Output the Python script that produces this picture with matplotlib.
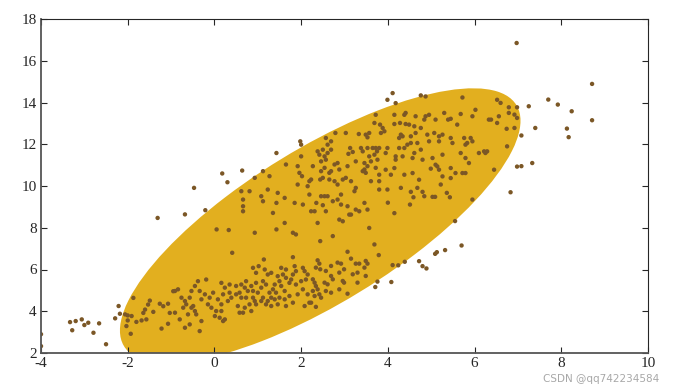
import numpy as np
import matplotlib.pyplot as plt
from matplotlib.patches import Ellipse

plt.rcParams['font.family'] = ['Liberation Serif', 'DejaVu Serif']
plt.rcParams['axes.unicode_minus'] = False

# lower band of points
lower_pts = [
    (-2.06, 3.85), (-2.00, 3.80), (-1.91, 3.77), (-2.00, 3.56), (-2.03, 3.29), (-1.93, 2.92),
    (-1.87, 4.64), (-1.80, 3.49), (-1.68, 3.56), (-1.57, 3.61), (-1.64, 3.92), (-1.60, 4.08),
    (-1.53, 4.32), (-1.49, 4.51), (-1.41, 3.97), (-1.26, 4.36), (-1.18, 4.24), (-1.07, 4.36),
    (-1.03, 3.92), (-1.07, 3.40), (-1.22, 3.17), (-0.95, 4.96),
    (0.41, 6.80), (1.14, 6.48), (1.81, 6.59),
    (0.89, 6.08), (1.02, 6.16), (1.16, 6.00), (0.96, 5.84), (1.23, 5.76), (1.31, 5.84),
    (1.54, 6.08), (1.65, 6.00), (1.85, 6.16), (1.88, 5.92), (2.04, 6.08), (2.15, 5.76),
    (2.11, 5.52), (1.46, 5.68), (1.58, 5.76), (1.50, 5.44), (1.39, 5.28), (1.35, 5.05),
    (1.27, 4.89), (1.42, 4.89), (1.54, 5.21), (1.62, 4.97), (1.73, 5.36), (1.77, 5.52),
    (1.88, 5.28), (2.00, 5.44), (2.04, 5.05), (1.92, 4.81), (1.73, 4.73), (1.81, 4.41),
    (1.65, 4.25), (2.15, 4.81), (2.19, 4.41), (2.08, 4.25),
    (0.73, 5.44), (0.85, 5.21), (0.96, 5.36), (1.08, 5.13), (1.12, 5.44), (1.19, 5.28),
    (1.00, 4.89), (1.12, 4.65), (1.08, 4.49), (1.23, 4.49), (0.89, 4.65), (0.81, 4.33),
    (0.85, 4.01), (0.70, 4.17), (0.62, 4.65), (0.58, 4.89), (0.66, 3.93), (0.54, 4.25),
    (0.50, 4.81), (0.39, 4.65), (0.31, 4.49), (0.35, 4.89), (0.24, 5.13), (0.16, 5.36),
    (0.35, 5.28), (0.20, 4.81), (0.16, 4.33), (0.08, 4.57), (0.04, 4.01), (0.12, 3.69),
    (0.20, 3.53), (0.24, 3.61), (0.01, 3.77), (-0.07, 4.17), (-0.11, 4.65), (-0.03, 4.89),
    (-0.22, 4.81), (-0.30, 4.57), (-0.34, 4.97), (-0.38, 5.44), (-0.19, 5.52), (-0.45, 5.21),
    (-0.53, 4.97), (-0.57, 4.65), (-0.65, 4.33), (-0.68, 4.49), (-0.72, 4.17), (-0.53, 4.17),
    (-0.45, 4.01), (-0.42, 3.85), (-0.49, 4.25), (-0.61, 3.85), (-0.68, 3.21), (-0.57, 3.37),
    (-0.34, 3.05), (-0.30, 3.53), (-0.91, 4.97), (-0.84, 5.05), (-0.91, 3.93), (-0.76, 4.65),
    (-0.80, 3.61), (-0.15, 4.33), (0.16, 4.01), (0.58, 3.93), (0.73, 4.65), (0.93, 4.49),
    (0.96, 4.33), (1.31, 4.65), (1.39, 4.57), (1.50, 4.65), (1.62, 4.57), (1.19, 4.33),
    (1.31, 4.25), (1.46, 4.33), (0.77, 4.97), (0.89, 4.97), (0.50, 5.21), (0.62, 5.28),
    (0.70, 5.13), (1.65, 5.60), (1.81, 5.76), (2.08, 5.92),
    (3.07, 6.85), (3.79, 6.69), (3.15, 6.52), (2.84, 6.33), (2.92, 6.28), (3.26, 6.28),
    (3.34, 6.28), (3.49, 6.41), (3.53, 6.28), (3.46, 6.09), (2.38, 6.44), (2.42, 6.28),
    (2.44, 6.01), (2.34, 6.09), (2.57, 5.93), (2.69, 6.17), (2.99, 6.01), (2.88, 5.85),
    (3.19, 5.77), (3.30, 5.85), (3.49, 5.69), (3.30, 5.37), (2.69, 5.69), (2.73, 5.53),
    (2.61, 5.29), (2.96, 5.45), (2.99, 5.37), (2.54, 5.37), (2.27, 5.53), (2.31, 5.37),
    (2.34, 5.21), (2.38, 5.05), (2.27, 4.97), (2.42, 4.81), (2.31, 4.73), (2.46, 4.65),
    (2.23, 4.41), (2.34, 4.21), (2.88, 5.05), (3.07, 4.84), (2.69, 4.89), (2.57, 4.97),
]

# upper cloud of points
upper_pts = [
    (0.05, 7.92), (0.33, 7.89), (2.44, 7.36), (3.69, 7.20), (4.00, 9.20), (4.15, 8.70),
    (2.57, 12.30), (2.61, 11.98), (2.69, 12.14), (2.79, 12.54), (3.03, 12.54), (3.33, 12.49),
    (3.49, 12.46), (3.53, 12.33), (3.57, 12.54), (2.38, 11.66), (2.42, 11.50), (2.50, 11.74),
    (2.54, 11.42), (2.57, 11.26), (2.46, 11.18), (2.61, 11.58), (2.69, 11.74), (3.13, 11.82),
    (3.19, 11.63), (3.09, 11.54), (3.38, 11.82), (3.42, 11.66), (3.53, 11.82), (3.57, 11.42),
    (3.76, 11.26), (3.61, 11.18), (3.46, 11.10), (3.26, 11.18), (3.07, 10.95), (2.84, 11.10),
    (2.77, 11.03), (2.88, 10.79), (2.69, 10.71), (2.65, 10.63), (2.54, 10.87), (2.46, 10.71),
    (2.50, 10.39), (2.44, 10.31), (2.27, 10.95), (2.00, 11.42), (1.92, 10.95), (1.96, 10.63),
    (2.02, 10.47), (1.65, 11.03), (1.27, 10.47), (1.12, 10.71), (0.93, 10.39), (0.62, 9.75),
    (0.81, 9.75), (1.08, 9.51), (1.23, 9.83), (1.46, 9.67), (1.62, 9.43), (1.43, 9.19),
    (1.12, 9.27), (0.66, 9.35), (0.66, 9.03), (0.66, 8.79), (1.35, 8.71), (1.62, 8.23),
    (1.43, 7.92), (0.93, 7.76), (1.81, 7.76), (1.88, 7.68), (2.19, 9.59), (2.23, 8.79),
    (2.35, 9.19), (2.31, 8.79), (2.46, 9.51), (2.54, 9.51), (2.61, 9.51), (2.50, 9.08),
    (2.57, 8.79), (2.77, 10.23), (2.84, 10.07), (2.65, 10.31), (2.96, 10.31), (3.03, 10.39),
    (3.15, 10.23), (3.26, 9.91), (3.23, 9.75), (2.92, 9.59), (2.84, 9.35), (2.73, 9.27),
    (2.92, 9.11), (3.07, 9.03), (3.11, 8.63), (3.15, 8.63), (3.34, 8.79), (3.26, 8.87),
    (3.46, 9.19), (3.53, 8.87), (2.88, 8.39), (2.96, 8.31), (3.57, 7.99), (2.38, 8.23),
    (2.73, 7.60), (2.19, 10.23), (2.23, 10.31), (2.15, 9.99), (1.92, 10.07), (3.46, 10.79),
    (3.49, 10.63), (3.42, 10.71), (3.53, 10.95), (3.61, 10.23), (3.72, 10.87), (3.80, 10.23),
    (3.80, 9.83), (2.04, 9.11), (1.85, 9.19),
    (4.76, 14.34), (4.87, 14.29), (5.72, 14.24), (6.52, 14.13), (6.56, 13.34), (6.75, 11.90),
    (6.45, 10.78), (6.02, 13.65), (5.95, 13.34), (5.68, 13.45), (5.45, 13.22), (5.39, 13.18),
    (5.30, 13.50), (5.60, 12.94), (5.10, 13.18), (4.95, 13.41), (4.87, 13.34), (4.64, 13.34),
    (4.41, 13.50), (4.38, 13.41), (4.15, 13.41), (3.72, 13.41), (3.69, 13.02), (3.82, 12.94),
    (3.88, 12.78), (3.84, 12.54), (3.92, 12.62), (4.15, 12.97), (4.28, 13.02), (4.41, 12.97),
    (4.49, 12.94), (4.61, 12.86), (4.76, 12.78), (4.84, 13.18), (6.33, 13.18), (6.38, 13.18),
    (6.52, 13.02), (4.30, 12.46), (4.34, 12.38), (4.26, 12.30), (4.53, 12.38), (4.64, 12.54),
    (4.91, 12.46), (5.07, 12.54), (5.26, 12.46), (5.18, 12.38), (5.45, 12.30), (5.76, 12.30),
    (5.91, 12.30), (5.83, 12.06), (5.79, 11.98), (5.95, 12.14), (4.53, 12.06), (4.45, 11.98),
    (4.68, 12.06), (4.95, 12.14), (5.18, 12.14), (5.49, 12.06), (3.65, 11.82), (3.72, 11.82),
    (3.80, 11.82), (3.75, 11.66), (3.69, 11.50), (3.99, 11.82), (3.95, 11.58), (4.26, 11.82),
    (4.38, 11.82), (4.34, 11.42), (4.18, 11.42), (4.18, 11.26), (4.61, 11.58), (4.76, 11.74),
    (4.57, 11.34), (4.80, 11.26), (5.03, 11.34), (5.26, 11.50), (5.10, 11.02), (5.14, 10.94),
    (5.18, 10.78), (4.99, 10.83), (5.45, 10.86), (5.56, 10.62), (5.72, 10.62), (5.79, 10.62),
    (5.68, 11.58), (5.79, 11.34), (5.87, 11.10), (6.10, 11.58), (6.22, 11.66), (6.25, 11.58),
    (6.29, 11.66), (4.15, 10.86), (3.95, 10.78), (3.80, 10.54), (4.07, 10.54), (4.38, 10.54),
    (4.57, 10.62), (4.72, 10.30), (5.26, 10.46), (5.45, 10.38), (3.99, 9.83), (4.30, 9.91),
    (5.22, 10.07), (4.68, 9.91),
    (6.60, 13.98), (6.79, 13.77), (6.98, 13.77), (6.79, 13.50), (6.92, 13.42), (6.98, 13.26),
    (6.74, 12.74), (6.92, 12.78),
    (5.95, 9.35), (4.53, 9.72), (4.80, 9.72), (4.84, 9.51), (5.03, 9.48), (5.09, 9.48),
    (5.36, 9.67), (5.43, 9.46), (4.59, 9.46), (4.51, 9.11),
]

# points lying outside the ellipse
outer_pts = [
    (-4.00, 2.90), (-4.00, 2.33), (-3.33, 3.48), (-3.28, 3.09), (-3.20, 3.53), (-3.06, 3.61),
    (-3.00, 3.34), (-2.91, 3.45), (-2.79, 2.97), (-2.66, 3.42), (-2.50, 2.42), (-2.29, 3.66),
    (-2.21, 4.25), (-2.18, 3.88),
    (-1.31, 8.47), (-0.68, 8.64), (-0.47, 9.91), (-0.21, 8.84), (0.18, 10.60), (0.30, 10.18),
    (0.64, 10.74), (1.43, 11.58), (1.98, 12.14), (2.00, 11.98),
    (3.99, 14.13), (4.11, 14.45), (4.18, 13.97),
    (6.97, 16.85), (8.71, 14.89), (7.70, 14.14), (7.92, 13.90), (8.24, 13.58), (7.25, 13.82),
    (8.71, 13.15), (7.40, 12.78), (8.13, 12.75), (8.17, 12.34), (7.08, 12.42),
    (6.98, 10.93), (7.08, 10.95), (7.33, 11.10), (6.83, 9.70),
    (5.70, 7.15), (5.32, 6.93), (5.13, 6.83), (5.09, 6.75), (5.55, 8.32), (4.72, 6.40),
    (4.80, 6.16), (4.89, 6.05), (4.39, 6.37), (4.08, 5.40), (3.71, 5.16), (3.76, 5.42),
    (4.11, 6.21), (4.24, 6.20),
]

ellipse_center = (2.44, 8.1)
ellipse_cov = [[21.34, 23.2], [23.2, 43.3]]

x_ticks = [-4, -2, 0, 2, 4, 6, 8, 10]
y_ticks = [2, 4, 6, 8, 10, 12, 14, 16, 18]

fig = plt.figure(figsize=(6.78, 3.85), dpi=100)
ax = fig.add_axes([41 / 678, 1 - 353 / 385, 607 / 678, 334 / 385])

vals, vecs = np.linalg.eigh(np.array(ellipse_cov))
angle = np.degrees(np.arctan2(vecs[1, 1], vecs[0, 1]))
ax.add_patch(Ellipse(ellipse_center, 2 * np.sqrt(vals[1]), 2 * np.sqrt(vals[0]),
                     angle=angle, facecolor='#E2AF1F', edgecolor='none', zorder=1))

pts = np.array(lower_pts + upper_pts + outer_pts)
ax.scatter(pts[:, 0], pts[:, 1], s=10, color='#7B5726', edgecolors='none', zorder=2)

ax.set_xlim(-4, 10)
ax.set_ylim(2, 18)
ax.set_xticks(x_ticks)
ax.set_yticks(y_ticks)
ax.tick_params(direction='in', top=True, right=True, length=4, width=0.8,
               labelsize=11, colors='#262626', pad=3)
for s in ax.spines.values():
    s.set_color('#262626')
    s.set_linewidth(0.8)
for s in ('left', 'bottom'):
    ax.spines[s].set_color('#555555')
    ax.spines[s].set_linewidth(1.3)

# watermark, kept just below the tick labels
fig.text(0.973, 0.003, 'CSDN @qq742234584', ha='right', va='bottom',
         color='#a8a8a8', fontsize=7.5, family='DejaVu Sans')

fig.savefig('out.png', dpi=100)
